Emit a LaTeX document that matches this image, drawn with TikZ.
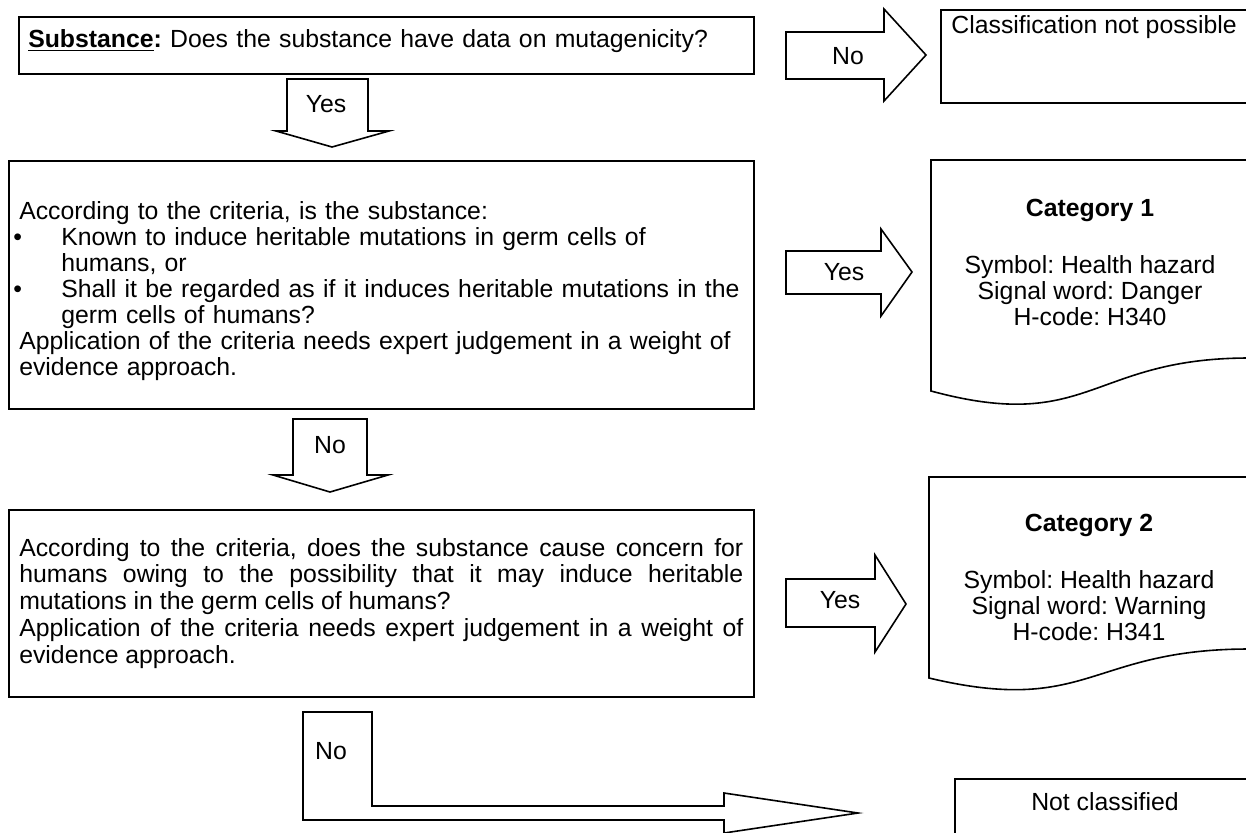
\documentclass[tikz,border=0pt]{standalone}
\usepackage{fontspec}
\setmainfont{Liberation Sans}
\setlength{\parindent}{0pt}
\frenchspacing
\hyphenpenalty=10000
\tolerance=10000
\newcommand{\bul}{\par\noindent\hangindent=21pt\hangafter=1\makebox[21pt][l]{\kern-3pt\textbullet}}

\begin{document}
\begin{tikzpicture}[x=0.5pt,y=-0.5pt,
  every node/.style={font=\fontsize{12.4}{13}\selectfont},
  box/.style={draw, line width=0.8pt, inner xsep=5.25pt, inner ysep=0pt, anchor=north west},
  blockarrow/.style={draw, line width=0.8pt, line join=miter},
  lbl/.style={inner sep=0pt}]
\useasboundingbox (0,0) rectangle (1246,832);
% questions
\node[box, text width=358pt, inner xsep=4.75pt, text height=15.5pt, text depth=13pt, align=left] (q1) at (18,16)
  {\textbf{\underline{Substance}:} Does the substance have data on mutagenicity?};
\node[box, text width=362pt, minimum width=372.5pt, minimum height=124pt, align=left] (q2) at (8,160)
  {\rule{0pt}{15pt}According to the criteria, is the substance:
   \bul Known to induce heritable mutations in germ cells of\newline humans, or
   \bul Shall it be regarded as if it induces heritable mutations in the\newline germ cells of humans?
   \par Application of the criteria needs expert judgement in a weight of\newline evidence approach.};
\node[box, text width=362pt, minimum width=372.5pt, minimum height=93.5pt, align=justify,
  font=\fontsize{12.4}{13.4}\selectfont] (q3) at (8,509)
  {According to the criteria, does the substance cause concern for\linebreak humans owing to the possibility that it may induce heritable\linebreak mutations in the germ cells of humans?\par
   Application of the criteria needs expert judgement in a weight of\linebreak evidence approach.};
% outcomes
\draw[line width=0.8pt] (941,10) rectangle (1250,103);
\node[lbl, anchor=base west] (nopos) at (951,33) {Classification not possible};
\draw[line width=0.8pt] (1249,358) -- (1249,160) -- (931,160) -- (931,391)
  .. controls (1090,434) and (1090,358) .. (1249,358);
\node[lbl, anchor=north, align=center] (cat1) at (1090,199)
  {\textbf{Category 1}\\[15.5pt] Symbol: Health hazard\\ Signal word: Danger\\ H-code: H340};
\draw[line width=0.8pt] (1249,649) -- (1249,477) -- (929,477) -- (929,678)
  .. controls (1089,716) and (1089,649) .. (1249,649);
\node[lbl, anchor=north, align=center] (cat2) at (1089,514)
  {\textbf{Category 2}\\[15.5pt] Symbol: Health hazard\\ Signal word: Warning\\ H-code: H341};
\draw[line width=0.8pt] (955,779) rectangle (1260,850);
\node[lbl, anchor=base] (notcl) at (1105,810) {Not classified};
% block arrows
\draw[blockarrow] (287,79) -- (368,79) -- (368,131) -- (389,131) -- (332,147) -- (276,131) -- (287,131) -- cycle;
\node[lbl] (yes1) at (326,104) {Yes};
\draw[blockarrow] (786,32) -- (884,32) -- (884,9) -- (926,55) -- (884,101) -- (884,79) -- (786,79) -- cycle;
\node[lbl] (no1) at (848,56) {No};
\draw[blockarrow] (786,251) -- (881,251) -- (881,229) -- (912,272) -- (881,316) -- (881,294) -- (786,294) -- cycle;
\node[lbl] (yes2) at (844,272) {Yes};
\draw[blockarrow] (293,419) -- (367,419) -- (367,475) -- (388,475) -- (330,492) -- (273,475) -- (293,475) -- cycle;
\node[lbl] (no2) at (330,445) {No};
\draw[blockarrow] (786,579) -- (875,579) -- (875,555) -- (906,604) -- (875,652) -- (875,627) -- (786,627) -- cycle;
\node[lbl] (yes3) at (840,600) {Yes};
\draw[blockarrow] (303,712) -- (372,712) -- (372,806) -- (724,806) -- (724,793) -- (858,813)
  -- (724,833) -- (724,820) -- (303,820) -- cycle;
\node[lbl] (no3) at (331,751) {No};
\end{tikzpicture}
\end{document}
